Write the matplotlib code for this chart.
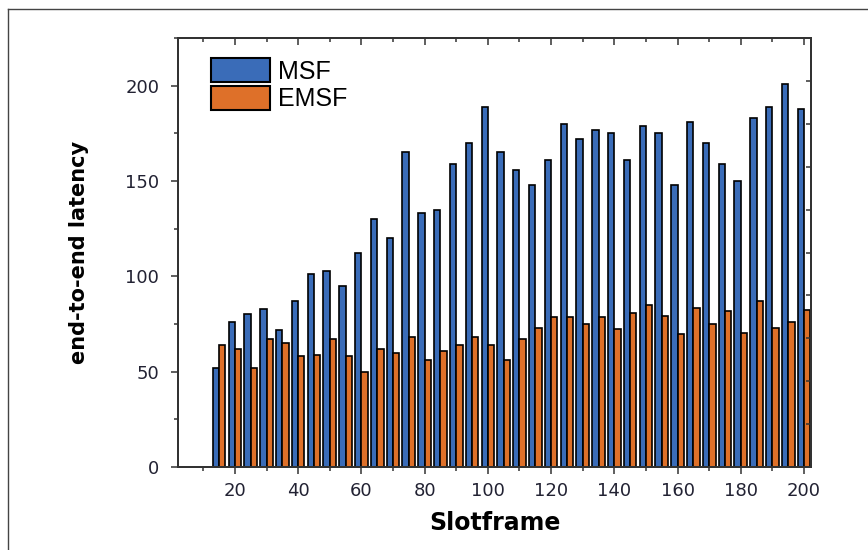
import numpy as np
import matplotlib
matplotlib.use("Agg")
import matplotlib.pyplot as plt
from matplotlib.lines import Line2D

# 데이터
slotframe = np.arange(15, 201, 5)
msf = [52, 76, 80, 83, 72, 87, 101, 103, 95, 112,
       130, 120, 165, 133, 135, 159, 170, 189, 165, 156,
       148, 161, 180, 172, 177, 175, 161, 179, 175, 148,
       181, 170, 159, 150, 183, 189, 201, 188]
emsf = [64, 62, 52, 67, 65, 58, 58.5, 67, 58, 50,
        62, 60, 68, 56, 61, 64, 68, 64, 56, 67,
        73, 78.5, 78.5, 75, 78.5, 72.5, 81, 85, 79, 70,
        83.5, 75, 82, 70.5, 87, 73, 76, 82.5]
labels = ["MSF", "EMSF"]
xticks = np.arange(20, 201, 20)
yticks = np.arange(0, 201, 50)

C_MSF = "#3a6cb8"
C_EMSF = "#de7029"
AX_C = "#333333"
W = 2.0

plt.rcParams['font.family'] = ['DejaVu Sans']

fig = plt.figure(figsize=(8.68, 5.5), dpi=100)
ax = fig.add_axes([178 / 868, 1 - 467 / 550, (811 - 178) / 868, (467 - 38) / 550])

ax.bar(slotframe - W / 2, msf, width=W, color=C_MSF, edgecolor="black",
       linewidth=1.2, label=labels[0])
ax.bar(slotframe + W / 2, emsf, width=W, color=C_EMSF, edgecolor="black",
       linewidth=1.2, label=labels[1])

ax.set_xlim(2, 202.2)
ax.set_ylim(0, 225)
ax.set_xticks(xticks)
ax.set_xticks(np.arange(10, 201, 20), minor=True)
ax.set_yticks(yticks)
ax.set_yticks(np.arange(25, 226, 50), minor=True)

for s in ax.spines.values():
    s.set_color(AX_C)
    s.set_linewidth(1.2)

ax.tick_params(which="major", direction="out", length=5, width=1.1, color=AX_C,
               labelsize=13, labelcolor="#222233")
ax.tick_params(which="minor", direction="out", length=2.8, width=1.1, color=AX_C)
ax.tick_params(axis="y", pad=8.5)
ax.tick_params(axis="x", pad=5.5)

# 위쪽 눈금 (안쪽)
ax_top = ax.twiny()
ax_top.set_xlim(ax.get_xlim())
ax_top.set_xticks(xticks)
ax_top.set_xticks(np.arange(10, 201, 20), minor=True)
ax_top.tick_params(which="major", direction="in", length=5, width=1.1, color=AX_C,
                   labeltop=False)
ax_top.tick_params(which="minor", direction="in", length=2.8, width=1.1, color=AX_C)

# 오른쪽 눈금 (별도 스케일, 안쪽)
ax_right = ax.twinx()
ax_right.set_ylim(0, 250)
ax_right.set_yticks(np.arange(0, 251, 25))
ax_right.tick_params(direction="in", length=3.5, width=1.1, color=AX_C,
                     labelright=False)
for a in (ax_top, ax_right):
    for s in a.spines.values():
        s.set_color(AX_C)
        s.set_linewidth(1.2)

ax.set_xlabel("Slotframe", fontsize=17, fontweight="bold", labelpad=8)
ax.set_ylabel("end-to-end latency", fontsize=15, fontweight="bold", labelpad=26)

leg = ax.legend(loc="upper left", bbox_to_anchor=(0.052, 0.953), frameon=False,
                prop={"family": ["Liberation Sans"], "size": 18},
                handlelength=2.36, handleheight=1.08, labelspacing=0.1,
                handletextpad=0.32, borderpad=0, borderaxespad=0)
for h in leg.legend_handles:
    h.set_linewidth(1.5)

# 바깥 테두리
fig.add_artist(Line2D([8 / 868, 8 / 868], [0, 1 - 9 / 550], transform=fig.transFigure,
                      color="#444444", linewidth=1.0))
fig.add_artist(Line2D([8 / 868, 1], [1 - 9 / 550, 1 - 9 / 550], transform=fig.transFigure,
                      color="#444444", linewidth=1.0))

fig.savefig("out.png", dpi=100)
